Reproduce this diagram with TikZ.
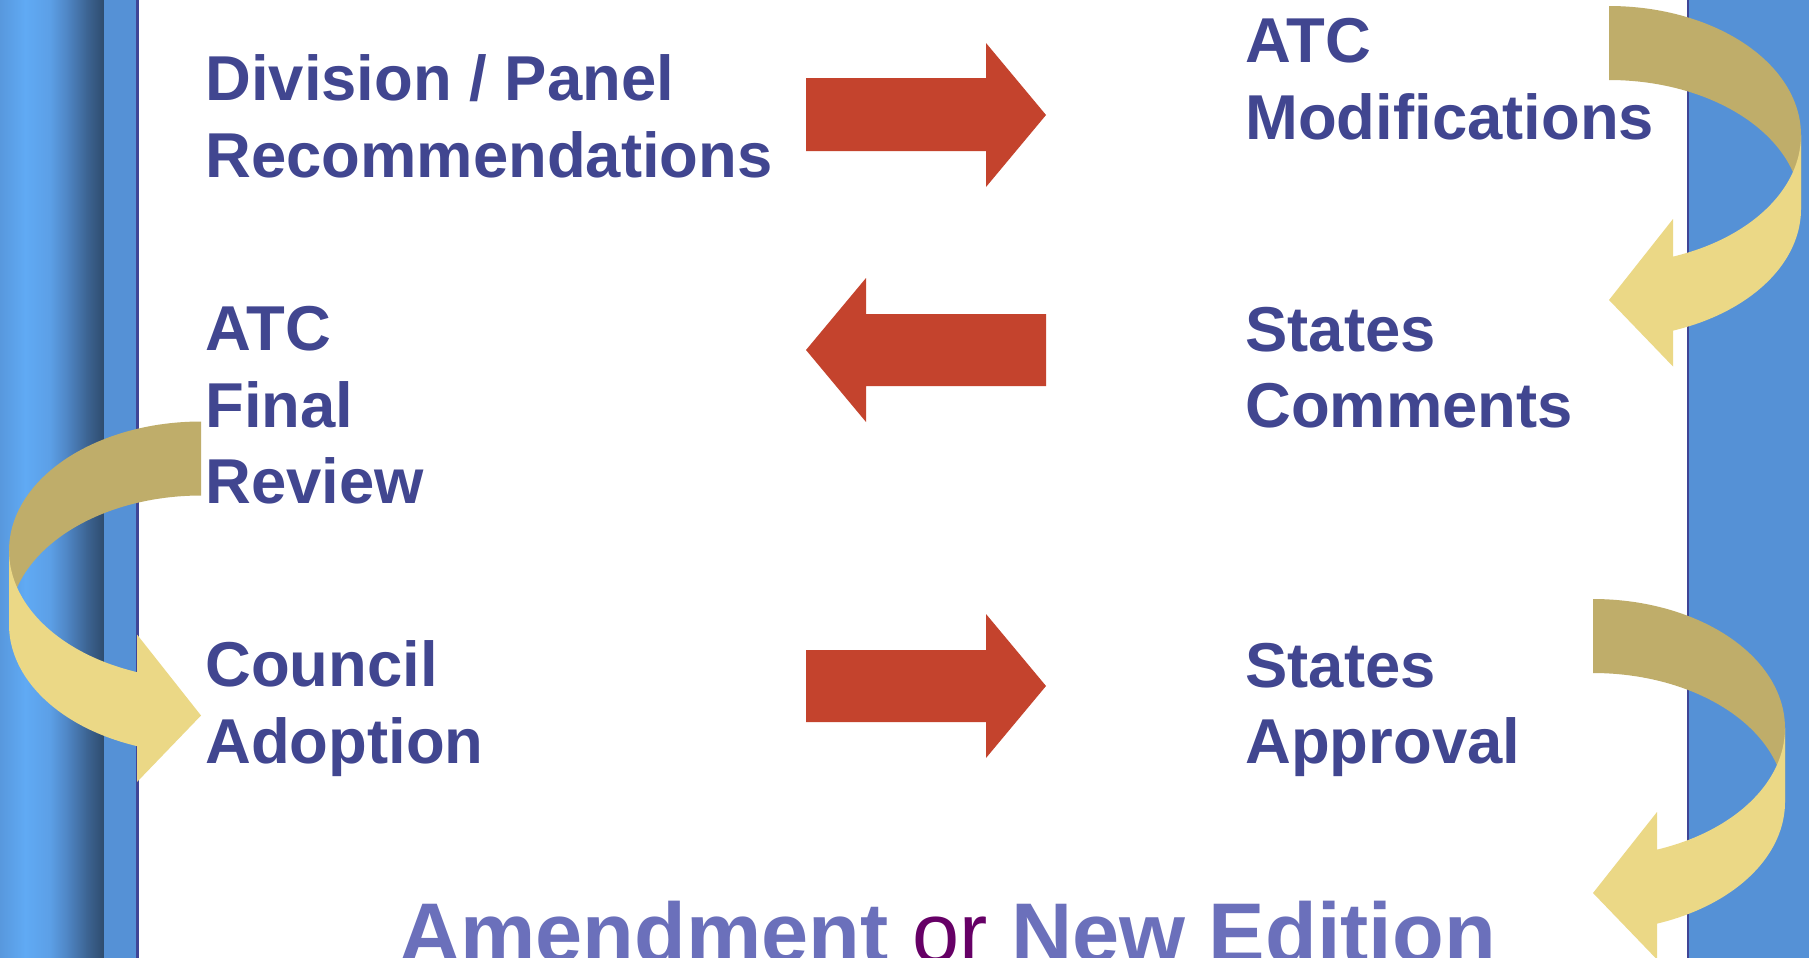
\documentclass[tikz,border=0pt]{standalone}
\usepackage{fontspec}
\setmainfont{Liberation Sans}
\definecolor{txtblue}{HTML}{414690}
\definecolor{amendcol}{HTML}{6B70BB}
\definecolor{orcol}{HTML}{660066}
\definecolor{redarr}{HTML}{C4432D}
\definecolor{bandblue}{HTML}{5591D6}
\definecolor{edgeline}{HTML}{3F4596}
\definecolor{ribdark}{HTML}{BFAD6A}
\definecolor{riblight}{HTML}{EBD886}
\definecolor{gA}{HTML}{5898DD}
\definecolor{gB}{HTML}{60AAF4}
\definecolor{gC}{HTML}{5C9FE6}
\definecolor{gD}{HTML}{4E84C2}
\definecolor{gE}{HTML}{3D6594}
\definecolor{gF}{HTML}{2E4B6D}
\newcommand\ribbonarrow[3]{%
  \begin{scope}[shift={(#1,#2)},xscale=#3]
    \fill[ribdark] plot[domain=90:0,samples=50,variable=\t] ({192*cos(\t)},{129-129*sin(\t)})
      -- (192,203)
      -- plot[domain=0:90,samples=50,variable=\t] ({192*cos(\t)},{203-129*sin(\t)})
      -- cycle;
    \fill[riblight] plot[domain=0:-70.53,samples=50,variable=\t] ({192*cos(\t)},{129-129*sin(\t)})
      -- (64,213) -- (0,294) -- (64,360.5) -- (64,324.6)
      -- plot[domain=-70.53:0,samples=50,variable=\t] ({192*cos(\t)},{203-129*sin(\t)})
      -- cycle;
  \end{scope}}
\begin{document}
\begin{tikzpicture}[x=0.5pt,y=-0.5pt,
  lbl/.style={anchor=base west,inner sep=0pt,text=txtblue,font=\fontsize{31.7}{38}\selectfont\bfseries},
  redarrow/.style={fill=redarr}]
\useasboundingbox (0,0) rectangle (1809,958);
\clip (0,0) rectangle (1809,958);
\fill[white] (0,0) rectangle (1809,958);
% left band gradient
\shade[left color=gA,right color=gB] (0,0) rectangle (25.5,958);
\shade[left color=gB,right color=gC] (25,0) rectangle (50.5,958);
\shade[left color=gC,right color=gD] (50,0) rectangle (68.5,958);
\shade[left color=gD,right color=gE] (68,0) rectangle (86.5,958);
\shade[left color=gE,right color=gF] (86,0) rectangle (104.5,958);
\fill[bandblue] (104,0) rectangle (136,958);
\fill[edgeline] (136,0) rectangle (138.5,958);
% right band
\fill[bandblue] (1688,0) rectangle (1809,958);
\fill[edgeline] (1686.5,0) rectangle (1689,958);
% red arrows
\fill[redarrow] (806,78) -- (986,78) -- (986,43) -- (1046,115) -- (986,187) -- (986,151) -- (806,151) -- cycle;
\fill[redarrow] (1046,314) -- (866,314) -- (866,278) -- (806,350) -- (866,422) -- (866,386) -- (1046,386) -- cycle;
\fill[redarrow] (806,650) -- (986,650) -- (986,614) -- (1046,686) -- (986,758) -- (986,722) -- (806,722) -- cycle;
% curved ribbon arrows
\ribbonarrow{1609}{6}{1}
\ribbonarrow{1593}{599}{1}
\ribbonarrow{201}{421.5}{-1}
% texts
\node[lbl] (div1) at (205,100) {Division / Panel};
\node[lbl] (div2) at (205,177) {Recommendations};
\node[lbl] (mod1) at (1245,62) {ATC};
\node[lbl] (mod2) at (1245,139) {Modifications};
\node[lbl] (fin1) at (205,350) {ATC};
\node[lbl] (fin2) at (205,427) {Final};
\node[lbl] (fin3) at (205,503) {Review};
\node[lbl] (com1) at (1245,351) {States};
\node[lbl] (com2) at (1245,427) {Comments};
\node[lbl] (cou1) at (205,686) {Council};
\node[lbl] (cou2) at (205,763) {Adoption};
\node[lbl] (app1) at (1245,687) {States};
\node[lbl] (app2) at (1245,763) {Approval};
\node[anchor=base west,inner sep=0pt,font=\fontsize{42.35}{50}\selectfont] (amend) at (399,962)
  {\textcolor{amendcol}{\bfseries Amendment} \textcolor{orcol}{or} \textcolor{amendcol}{\bfseries New Edition}};
\end{tikzpicture}
\end{document}
